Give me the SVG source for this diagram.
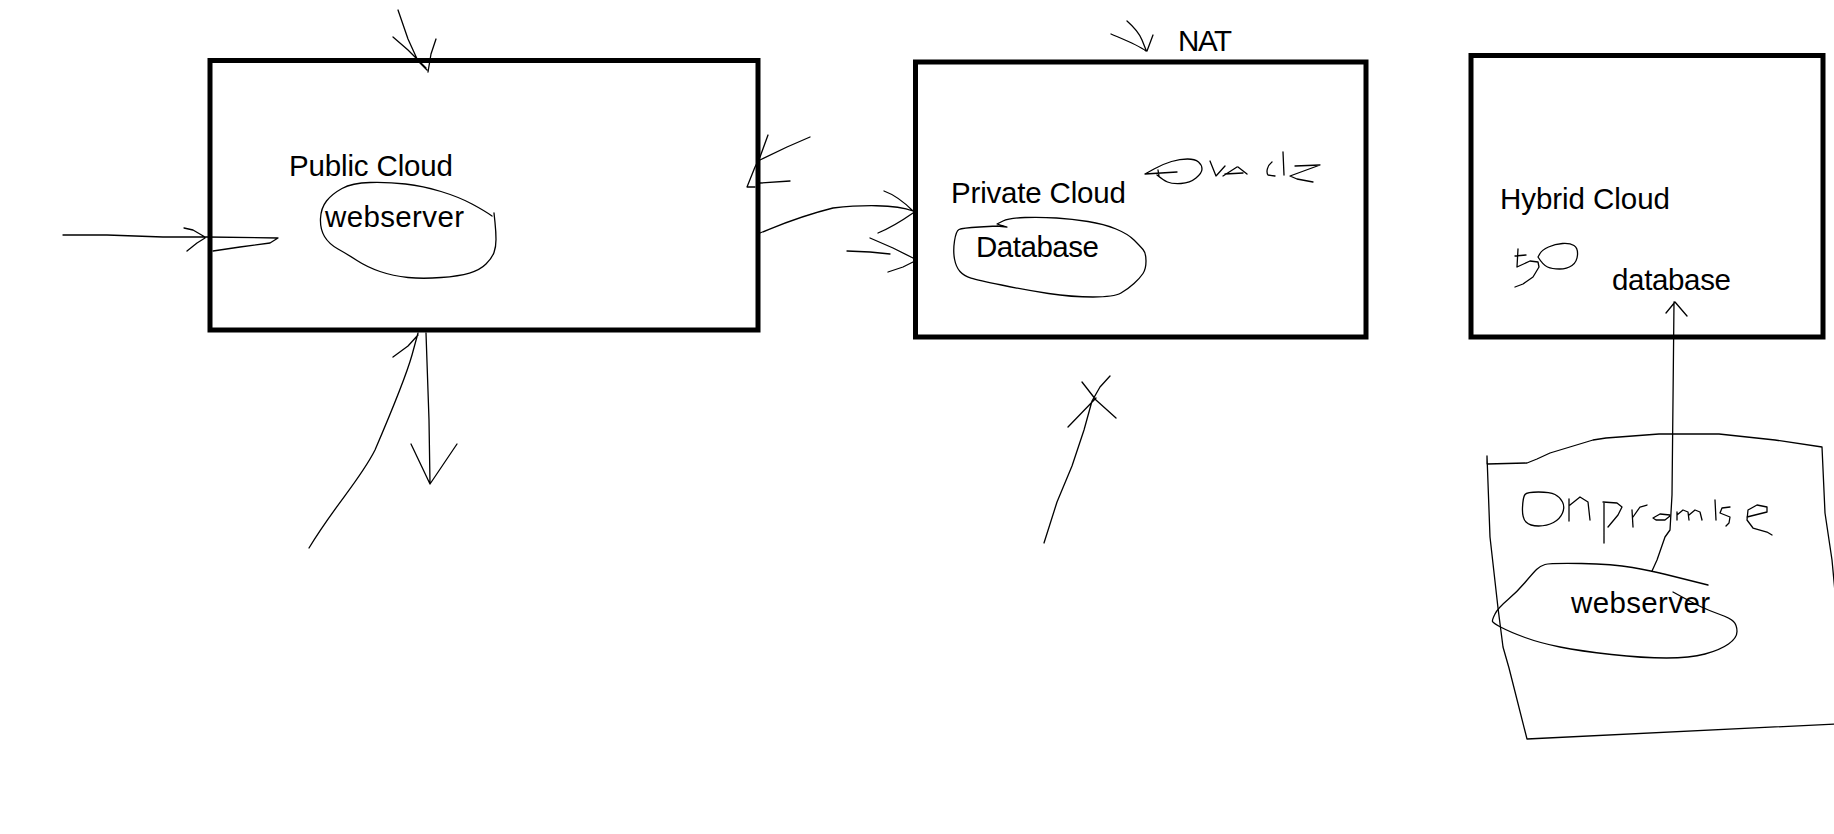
<svg xmlns="http://www.w3.org/2000/svg" width="1834" height="834" viewBox="0 0 1834 834">
<style>
.box{fill:none;stroke:#000;stroke-width:5}
.ink{fill:none;stroke:#000;stroke-width:1.3;stroke-linejoin:round;stroke-linecap:round}
.lbl{font-family:"Liberation Sans",Arial,sans-serif;font-size:29.5px;fill:#000}
</style>
<rect width="1834" height="834" fill="#fff"/>
<g id="public-cloud">
<rect class="box" x="210" y="60.5" width="548" height="269.5"/>
<text class="lbl" x="289" y="175.5" textLength="164">Public Cloud</text>
<path class="ink" d="M494,213 L495,222.5 Q496,232 496,239.5 Q496,247 494,252.5 Q492,258 486,264 Q480,270 469.5,273 Q459,276 441,277.5 Q423,279 408,277.5 Q393,276 380,271.5 Q367,267 357,260.5 Q347,254 338,249 Q329,244 324.5,236.5 Q320,229 320.5,218.5 Q321,208 326.5,201 Q332,194 342,188.5 Q352,183 370,182.5 Q388,182 405.5,184 Q423,186 441,191.5 Q459,197 472,204 Q485,211 492,216"/>
<text class="lbl" x="325" y="226.5" textLength="139">webserver</text>
</g>
<g id="private-cloud">
<rect class="box" x="915.5" y="62" width="450.5" height="275"/>
<text class="lbl" x="951" y="202.5" textLength="175">Private Cloud</text>
<path class="ink" d="M997,226 L1007,227 L997,224 L1003,221 Q1009,218 1025,217.5 Q1041,217 1056.5,218 Q1072,219 1088,221.5 Q1104,224 1116,229 Q1128,234 1134,240 Q1140,246 1143,249.5 Q1146,253 1146,261 Q1146,269 1143,273.5 Q1140,278 1134,283.5 Q1128,289 1121,293 Q1114,297 1093,297 Q1072,297 1048.5,293.5 Q1025,290 1001.5,285 Q978,280 971,278 Q964,276 960,271.5 Q956,267 954.5,259 Q953,251 954.5,241 Q956,231 959,229.5 Q962,228 979.5,227 L997,226"/>
<text class="lbl" x="976" y="257" textLength="123">Database</text>
<path class="ink" d="M1145,174 L1154,169 Q1163,164 1171.5,161.5 Q1180,159 1187.5,159 Q1195,159 1198.5,162 Q1202,165 1202,169 Q1202,173 1196,178 Q1190,183 1181,183.5 Q1172,184 1167.5,182 Q1163,180 1157,175 M1145,174 L1177,172 M1158,170 L1159,176 M1210,161 L1216,176 L1225,166 M1223,176 L1237,167 M1225,174 L1243,173 M1238,167 L1247,174 M1272,162 C1267,166 1266,172 1268,175 L1275,176 M1283,152 L1284,175 M1295,166 L1320,165 L1290,176 L1297,179 L1313,182"/>
</g>
<g id="nat">
<text class="lbl" x="1178" y="51" textLength="54">NAT</text>
</g>
<g id="hybrid-cloud">
<rect class="box" x="1471" y="55.5" width="352" height="281.5"/>
<text class="lbl" x="1500" y="208.5" textLength="170">Hybrid Cloud</text>
<path class="ink" d="M1518,249 L1517,267 M1515,256 L1526,255 M1517,267 L1530,261 L1538,262 L1539,267 L1533,277 L1523,284 L1515,287 M1538,257 L1540,253.5 Q1542,250 1548.5,247 Q1555,244 1562.5,243.5 Q1570,243 1574,245.5 Q1578,248 1577.5,255 Q1577,262 1572,265.5 Q1567,269 1559.5,269 Q1552,269 1547.5,267 Q1543,265 1538,257"/>
<text class="lbl" x="1612" y="290" textLength="119">database</text>
</g>
<g id="onpremise">
<path class="ink" d="M1487,456 L1487,464 L1527,463 L1537,459 L1550,453 L1593,440 L1606,438 L1659,434 L1719,434 L1775,440 L1822,447 L1825,513 L1832,560 L1835,592 M1487,456 L1490,537 L1498,608 L1503,647 L1509,668 L1527,739 L1835,724"/>
<path class="ink" d="M1525,494.5 Q1523,497 1522.5,507.5 Q1522,518 1526,522 Q1530,526 1538.5,526 Q1547,526 1553.5,522.5 Q1560,519 1562.5,513 Q1565,507 1562.5,502 Q1560,497 1555,494.5 Q1550,492 1538.5,492 Q1527,492 1525,494.5 Z M1569,499 L1569,521 M1570,505 L1580,497 L1588,502 L1590,520 M1604,503 L1604,543 M1603,502 L1617,503 L1622,507 L1618,515 L1608,527 M1632,510 L1633,527 M1633,517 L1640,507 L1647,505 M1670,515 L1660,514 L1653,518 L1656,520 L1665,520 L1670,516 M1677,512 L1677,520 M1677,515 L1683,510 L1688,512 L1689,520 M1689,515 L1695,510 L1700,512 L1702,520 M1715,500 L1716,520 M1730,507 L1722,508 L1720,513 L1730,517 L1729,523 L1726,526 M1747,517 L1767,512 L1767,507 L1757,505 L1748,510 L1747,520 L1753,528 L1767,532 L1772,535"/>
<path class="ink" d="M1708,585 L1694,581.5 Q1680,578 1666,574.5 Q1652,571 1632.5,567.5 Q1613,564 1581.5,563.5 Q1550,563 1545,564.5 Q1540,566 1536.5,569.5 Q1533,573 1525,582.5 Q1517,592 1507.5,600 Q1498,608 1495,614 Q1492,620 1492.5,621.5 Q1493,623 1501.5,627.5 Q1510,632 1525,637.5 Q1540,643 1560,647 Q1580,651 1611.5,654.5 Q1643,658 1666.5,658 Q1690,658 1705,654 Q1720,650 1728.5,644 Q1737,638 1737,631.5 Q1737,625 1733.5,621.5 Q1730,618 1720,614.5 Q1710,611 1701.5,607 Q1693,603 1673,592"/>
<text class="lbl" x="1571" y="612.5" textLength="139">webserver</text>
</g>
<g id="connectors">
<path class="ink" d="M63,235 L107,235 L163,237 L207,237 L278,238 L270,243 L240,247 L213,251 M184,228 L193,230 L205,237 M187,251 L197,243 L205,238"/>
<path class="ink" d="M398,10 L408,39 L418,61 L427,70 M393,37 L408,50 L426,68 M436,39 L431,54 L428,72"/>
<path class="ink" d="M309,548 C335,505 360,480 375,450 C390,415 405,380 412,355 L418,333 M393,357 L408,346 L418,335"/>
<path class="ink" d="M426,333 L429,420 L430,484 M411,444 L430,484 L457,444"/>
<path class="ink" d="M810,137 L787,147 L760,160 M768,135 L760,157 L755,167 L747,187 L755,187 M760,183 L790,181"/>
<path class="ink" d="M760,233 C780,225 797,217 833,208 C860,205 895,204 913,211 M884,191 C895,195 905,203 913,211 M878,233 C890,228 903,220 913,213"/>
<path class="ink" d="M847,251 L870,252 L890,254 M870,238 L893,248 L913,258 M888,272 L903,267 L913,262"/>
<path class="ink" d="M1127,21 C1135,28 1140,35 1142,40 L1146,50 M1111,34 C1125,40 1138,45 1146,51 M1153,35 L1147,51"/>
<path class="ink" d="M1044,543 L1057,502 L1072,466 L1084,430 L1092,401 L1100,387 L1110,376 M1082,382 L1096,400 L1116,418 M1068,427 L1096,398"/>
<path class="ink" d="M1652,571 L1657,560 L1665,537 L1670,530 L1672,495 L1673,400 L1674,302 M1666,313 L1675,302 L1687,316"/>
</g>
</svg>
